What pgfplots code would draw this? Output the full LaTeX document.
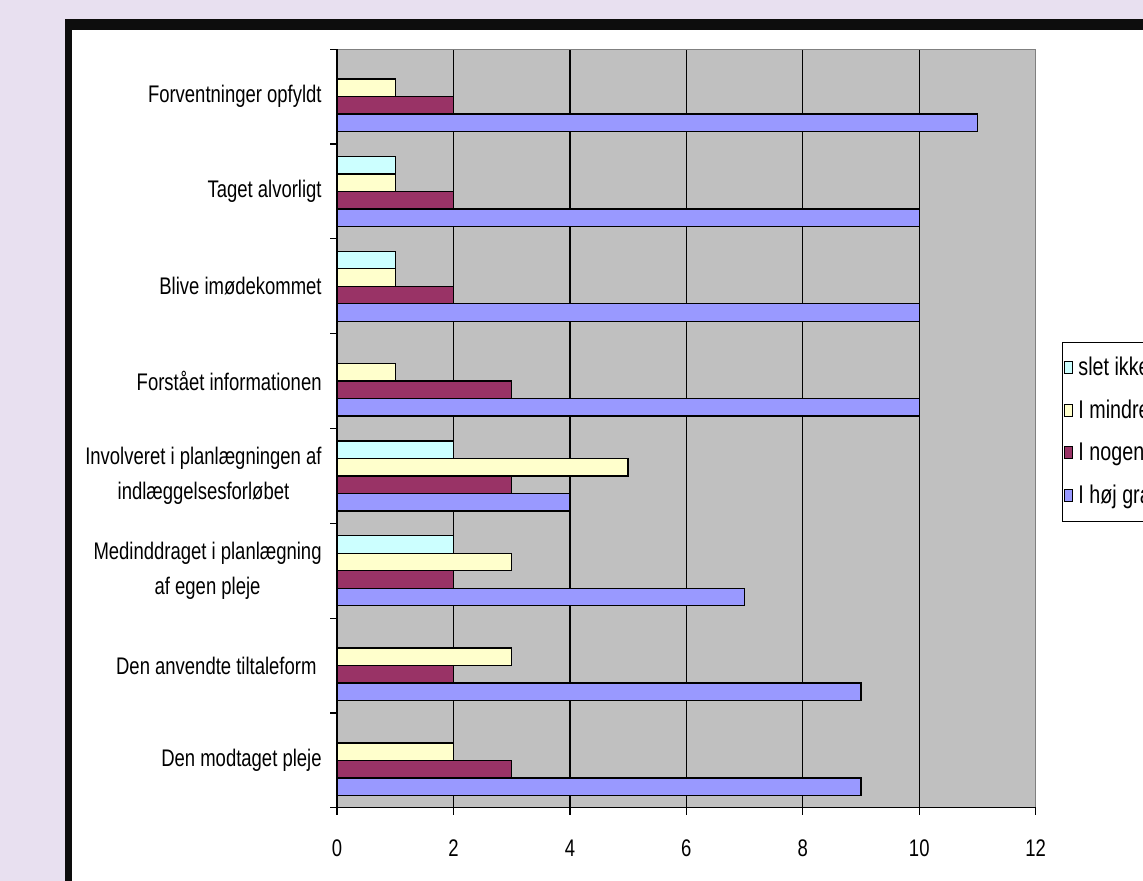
\documentclass[border=0pt]{standalone}
\usepackage{fontspec}
\setmainfont{Liberation Sans}[FakeStretch=0.77]
\usepackage{pgfplots}
\pgfplotsset{compat=1.18}
\definecolor{bgl}{HTML}{E8E0F0}
\definecolor{cyanbar}{HTML}{CCFFFF}
\definecolor{yelbar}{HTML}{FFFFCC}
\definecolor{marbar}{HTML}{993366}
\definecolor{bluebar}{HTML}{9999FF}
\definecolor{plotgray}{HTML}{C0C0C0}
\definecolor{bordgray}{HTML}{808080}
\begin{document}
\begin{tikzpicture}
\useasboundingbox (0,0) rectangle (571.5pt,440.5pt);
\clip (0,0) rectangle (571.5pt,440.5pt);
\fill[bgl] (0,0) rectangle (571.5pt,440.5pt);
\fill[black!95] (32.5pt,431pt) rectangle (620pt,-50pt);
\fill[white] (36pt,425.25pt) rectangle (620pt,-50pt);
\begin{axis}[
  at={(343.175pt,226.25pt)}, anchor=center,
  scale only axis, width=349.35pt, height=379.2pt,
  xbar, bar width=0.1846,
  legend image code/.code={\draw[#1,draw=black,line width=0.5pt] (0pt,-3pt) rectangle (4pt,3pt);},
  clip=false,
  xmin=0, xmax=12, ymin=-0.5, ymax=7.5, y dir=reverse,
  xtick={0,2,...,12},
  ytick={-0.5,0.5,...,7.5}, yticklabels={},
  extra y ticks={0,1,...,7},
  extra y tick labels={{Forventninger opfyldt},{Taget alvorligt},{Blive imødekommet},{Forstået informationen},{Involveret i planlægningen af\\indlæggelsesforløbet},{Medinddraget i planlægning\\af egen pleje},{Den anvendte tiltaleform\ },{Den modtaget pleje}},
  extra y tick style={major tick length=0pt, tick style={draw=none}},
  xtick pos=bottom, ytick pos=left,
  tick align=outside,
  major tick length=3.5pt,
  tick style={black, line width=0.6pt},
  xmajorgrids,
  grid style={black, line width=0.6pt},
  axis background/.style={fill=plotgray},
  axis line style={draw=bordgray, line width=0.6pt},
  /pgf/number format/assume math mode=true,
  yticklabel style={font=\fontsize{12}{17.5}\selectfont, align=center, inner sep=0pt, xshift=-7.5pt},
  xticklabel style={font=\fontsize{12}{14}\selectfont, inner sep=0pt, yshift=-12.3pt},
  legend style={at={(1.0376,0.6144)}, anchor=north west, draw=black, line width=0.5pt, fill=white,
    inner xsep=1pt, inner ysep=2pt, column sep=2.5pt,
    font=\fontsize{12.8}{14}\selectfont,
    nodes={minimum height=21.35pt, inner sep=0pt}},
  legend cell align=left,
  every axis plot/.append style={draw=black, line width=0.7pt},
]
\addplot[fill=cyanbar, bar shift=-0.2769] coordinates {(1,1) (1,2) (2,4) (2,5)};
\addplot[fill=yelbar, bar shift=-0.0923] coordinates {(1,0) (1,1) (1,2) (1,3) (5,4) (3,5) (3,6) (2,7)};
\addplot[fill=marbar, bar shift=0.0923] coordinates {(2,0) (2,1) (2,2) (3,3) (3,4) (2,5) (2,6) (3,7)};
\addplot[fill=bluebar, bar shift=0.2769] coordinates {(11,0) (10,1) (10,2) (10,3) (4,4) (7,5) (9,6) (9,7)};
\legend{slet ikke, I mindre grad, I nogen grad, I høj grad}
\draw[black, line width=0.75pt] (axis cs:0,-0.5) -- (axis cs:0,7.5) -- (axis cs:12,7.5);
\end{axis}
\end{tikzpicture}
\end{document}
